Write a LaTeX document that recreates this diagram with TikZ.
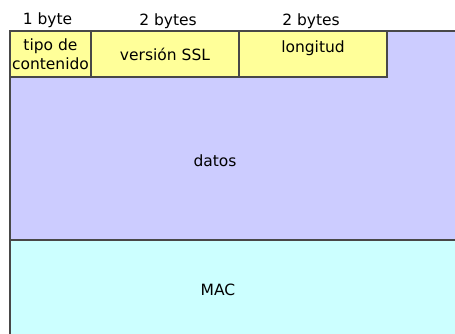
\documentclass[tikz,border=0pt]{standalone}
\usepackage{fontspec}
\setmainfont{DejaVu Sans}
\usetikzlibrary{positioning}

\definecolor{amarillo}{HTML}{FFFF99}
\definecolor{lila}{HTML}{CCCCFF}
\definecolor{celeste}{HTML}{CCFFFF}
\definecolor{borde}{HTML}{484848}

\tikzset{
	campo/.style={draw=borde, line width=1.2pt, fill=amarillo, inner sep=0pt, outer sep=0pt, minimum height=46pt, align=center, font=\fontsize{15.5}{16}\selectfont},
	bytes/.style={inner sep=1pt, font=\fontsize{15.5}{16}\selectfont}
}

\begin{document}
\begin{tikzpicture}[x=1pt, y=-1pt]
\useasboundingbox (0,0) rectangle (455,334);
\clip (0,0) rectangle (455,334);

\fill[lila] (10,31) rectangle (470,240);
\fill[celeste] (10,240) rectangle (470,350);
\draw[borde, line width=1.2pt] (10,350) -- (10,31) -- (470,31);
\draw[borde, line width=1.2pt] (10,240) -- (470,240);

\node[campo, anchor=north west, minimum width=81pt] (tipo) at (10,31) {tipo de\\[3pt]contenido};
\node[campo, minimum width=148pt, right=0pt of tipo] (version) {versión SSL};
\node[campo, minimum width=148pt, right=0pt of version] (longitud) {};
\node[bytes] (longtxt) at ([yshift=6pt]longitud.center) {longitud};

\node[bytes, above=2pt of tipo, xshift=-3pt] (b1) {1 byte};
\node[bytes, above=1pt of version, xshift=3pt] (b2) {2 bytes};
\node[bytes, above=1pt of longitud, xshift=-2pt] (b3) {2 bytes};

\node[bytes] (datos) at (215,161) {datos};
\node[bytes] (mac) at (218,290) {MAC};

\end{tikzpicture}
\end{document}
